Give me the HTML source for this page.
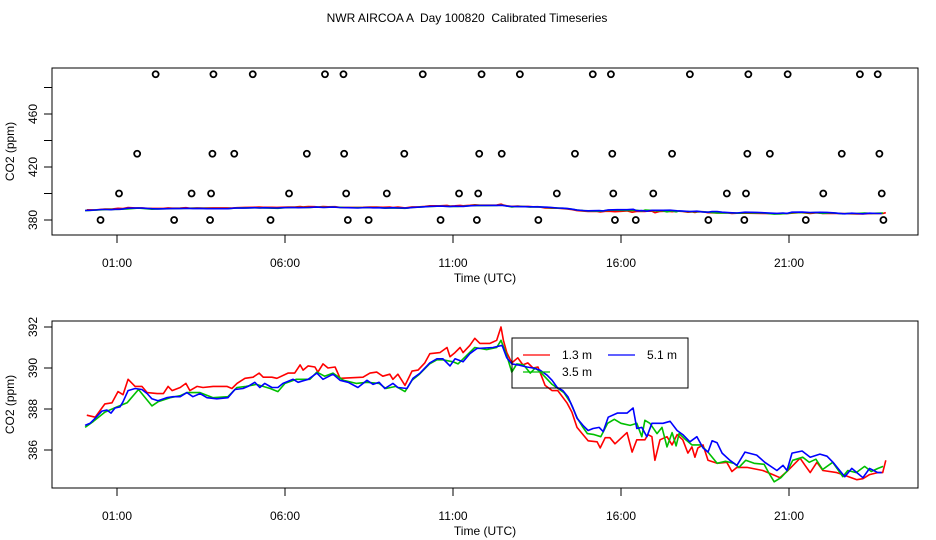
<!DOCTYPE html>
<html><head><meta charset="utf-8"><style>
body{margin:0;background:#fff}
svg{display:block;font-family:"Liberation Sans",Arial,sans-serif}
</style></head><body>
<svg id="c" width="936" height="540" viewBox="0 0 936 540">
<text x="467" y="22" text-anchor="middle" font-size="12" style="white-space:pre" xml:space="preserve">NWR AIRCOA A  Day 100820  Calibrated Timeseries</text>
<g id="top"></g>
<g id="bot"></g>
</svg>
<script>
const xTickHours=[1,6,11,16,21];
const xTickLabels=["01:00","06:00","11:00","16:00","21:00"];
const topTicks=[380,400,420,440,460,480];
const topTickLabels=["380","","420","","460",""];
const botTicks=[386,388,390,392];
const botTickLabels=["386","388","390","392"];
const seriesNames=["1.3 m","3.5 m","5.1 m"];
const seriesColors=["#ff0000","#00c000","#0000ff"];
// 1.3 m
const redT=[0.1,0.35,0.64,0.85,1.03,1.18,1.33,1.54,1.74,1.9,2.2,2.38,2.52,2.64,2.88,3.05,3.17,3.38,3.56,3.86,4.27,4.42,4.57,4.81,5.05,5.23,5.35,5.61,5.76,6.09,6.29,6.45,6.54,6.69,6.89,6.98,7.13,7.28,7.49,7.64,8.32,8.53,8.73,8.91,9.12,9.21,9.36,9.57,9.78,9.96,10.16,10.31,10.61,10.82,10.91,11.06,11.21,11.3,11.5,11.65,11.8,12.1,12.3,12.43,12.5,12.6,12.75,12.93,13.08,13.23,13.38,13.53,13.74,13.95,14.12,14.39,14.54,14.69,14.87,15.02,15.29,15.38,15.53,15.67,15.82,16.18,16.33,16.47,16.71,16.8,16.92,17.01,17.16,17.37,17.52,17.67,17.84,17.99,18.11,18.2,18.29,18.44,18.59,18.86,19.15,19.3,19.45,19.75,20.22,20.52,20.73,20.97,21.33,21.48,21.63,21.83,22.01,22.42,22.6,23.02,23.2,23.4,23.64,23.79,23.88];
const redV=[387.7,387.6,388.25,388.3,388.85,388.7,389.45,389.1,389.1,388.8,388.75,388.75,389.1,388.9,389.05,389.25,388.9,389.1,389.05,389.1,389.1,389.0,389.25,389.5,389.55,389.75,389.55,389.55,389.5,389.75,389.75,390.15,389.9,390.1,390.05,389.8,390.2,390.0,390.05,389.5,389.55,389.75,389.8,389.6,389.7,389.45,389.7,389.15,389.85,389.9,390.25,390.7,390.75,391.0,390.55,390.75,391.0,390.75,391.1,391.45,391.2,391.2,391.35,392.0,391.35,390.75,390.25,390.5,390.15,390.25,390.0,390.05,389.15,388.9,388.9,388.3,387.85,387.1,386.75,386.45,386.4,386.1,386.6,386.6,386.3,386.85,385.9,386.5,386.5,386.75,386.65,385.5,386.5,386.65,386.25,386.75,386.5,385.85,386.15,385.65,386.1,386.25,385.5,385.35,385.4,384.95,385.15,385.15,385.0,384.8,384.65,385.0,385.6,385.25,384.9,385.4,385.0,384.9,384.8,384.55,384.6,384.8,384.9,384.9,385.5];
// 3.5 m
const greenT=[0.05,0.3,0.64,1.0,1.3,1.64,2.04,2.22,2.58,2.88,3.08,3.47,3.86,4.3,4.57,4.84,5.15,5.56,5.79,6.0,6.34,6.74,6.95,7.18,7.43,7.74,8.12,8.44,8.8,9.0,9.3,9.57,9.78,10.0,10.3,10.52,10.7,11.0,11.15,11.4,11.65,12.0,12.3,12.43,12.6,12.75,12.9,13.1,13.3,13.45,13.6,13.95,14.3,14.5,14.7,14.87,15.0,15.2,15.4,15.6,15.8,16.0,16.27,16.47,16.62,16.71,16.86,17.07,17.22,17.37,17.52,17.64,17.73,17.93,18.11,18.37,18.59,18.86,19.11,19.36,19.51,19.71,19.96,20.26,20.41,20.56,20.76,20.96,21.11,21.41,21.6,21.8,22.0,22.3,22.6,22.75,23.0,23.25,23.45,23.65,23.8];
const greenV=[387.1,387.4,387.85,388.1,388.3,388.95,388.15,388.35,388.55,388.65,388.8,388.8,388.55,388.6,389.05,389.1,389.2,389.0,388.85,389.25,389.45,389.45,389.8,389.6,389.75,389.4,389.25,389.3,389.25,389.0,389.1,388.85,389.4,389.7,390.2,390.4,390.4,390.3,390.2,390.6,391.0,390.9,391.0,391.35,390.6,389.8,390.2,390.15,389.75,390.0,389.8,389.2,388.8,388.3,387.55,387.1,386.8,386.75,386.65,387.3,387.5,387.3,387.2,387.3,386.65,387.45,387.3,386.8,387.1,386.15,386.85,386.2,386.8,386.5,386.25,386.25,385.9,385.35,385.45,385.35,385.15,385.5,385.35,385.3,384.85,384.45,384.65,385.0,385.5,385.65,385.4,385.55,385.05,385.4,384.7,385.0,384.9,385.2,384.95,385.1,385.2];
// 5.1 m
const blueT=[0.05,0.2,0.35,0.55,0.7,0.82,0.94,1.09,1.18,1.33,1.54,1.74,1.9,2.04,2.22,2.48,2.67,2.88,3.08,3.26,3.47,3.68,3.97,4.3,4.51,4.75,4.9,5.1,5.25,5.4,5.61,5.79,5.94,6.24,6.39,6.69,6.95,7.13,7.43,7.64,7.88,8.17,8.44,8.62,8.8,8.97,9.21,9.36,9.63,9.81,10.02,10.31,10.52,10.7,10.91,11.06,11.3,11.5,11.71,12.19,12.46,12.6,12.75,12.93,13.2,13.38,13.59,13.8,13.95,14.1,14.27,14.42,14.57,14.69,14.87,15.02,15.17,15.35,15.47,15.62,15.89,16.18,16.36,16.47,16.62,16.77,16.92,17.25,17.46,17.67,17.84,18.05,18.26,18.44,18.59,18.71,18.86,19.01,19.24,19.45,19.69,20.04,20.28,20.64,20.82,20.94,21.09,21.39,21.63,21.92,22.13,22.31,22.51,22.66,22.87,23.02,23.2,23.4,23.64,23.76];
const blueV=[387.2,387.3,387.55,387.9,387.95,387.8,388.05,388.1,388.35,388.9,389.0,388.95,388.75,388.5,388.4,388.55,388.6,388.6,388.8,388.6,388.75,388.55,388.5,388.55,388.95,389.0,389.1,389.3,389.05,389.25,389.05,389.05,389.25,389.45,389.3,389.45,389.75,389.45,389.7,389.4,389.3,389.05,389.4,389.2,389.3,389.0,389.25,389.05,389.0,389.5,389.75,390.25,390.45,390.45,390.1,390.45,390.3,390.7,390.95,391.0,391.1,390.5,390.2,390.15,390.05,390.0,389.9,389.65,389.4,389.05,388.9,388.6,388.05,387.55,387.2,386.95,387.05,387.1,386.9,387.6,387.8,387.8,388.05,387.05,387.1,386.65,387.3,387.3,387.4,386.95,386.75,386.4,386.65,386.1,385.9,386.45,386.35,385.85,385.5,385.25,385.9,385.75,385.4,385.0,385.25,385.0,385.85,385.95,385.65,385.8,385.7,385.4,385.0,384.7,385.1,384.9,384.65,385.1,384.9,384.9];
// raw reference points (hours, ppm)
const circleT=[2.15,3.87,5.04,7.19,7.74,10.10,11.85,12.99,15.16,15.70,18.05,19.79,20.96,23.11,23.64,
 1.60,3.84,4.49,6.65,7.76,9.55,11.78,12.45,14.63,15.74,17.52,19.76,20.43,22.57,23.69,
 1.06,3.22,3.80,6.12,7.82,9.03,11.18,11.75,14.09,15.77,16.96,19.15,19.72,22.02,23.76,
 0.51,2.70,3.77,5.57,7.87,8.49,10.63,11.71,13.54,15.82,16.44,18.60,19.67,21.50,23.81];
const circleV=[490,490,490,490,490,490,490,490,490,490,490,490,490,490,490,
 430,430,430,430,430,430,430,430,430,430,430,430,430,430,430,
 400,400,400,400,400,400,400,400,400,400,400,400,400,400,400,
 380,380,380,380,380,380,380,380,380,380,380,380,380,380,380];

const NS="http://www.w3.org/2000/svg";
function mk(p,tag,a){const e=document.createElementNS(NS,tag);for(const k in a)e.setAttribute(k,a[k]);p.appendChild(e);return e;}
const X=h=>83.4+33.6*h;
const L=52,R=918;
function panel(g,top,bottom,yScale,ticks,labels,prefix){
  const box=mk(g,'rect',{x:L,y:top,width:R-L,height:bottom-top,fill:'none',stroke:'#000','stroke-width':1});
  
  
  xTickHours.forEach((h,i)=>{
    const t=mk(g,'line',{x1:X(h),x2:X(h),y1:bottom,y2:bottom+8,stroke:'#000'});
    
    
    const tx=mk(g,'text',{x:X(h),y:bottom+32,'text-anchor':'middle','font-size':12});
    tx.textContent=xTickLabels[i];
    
    
  });
  const xt=mk(g,'text',{x:485,y:bottom+47,'text-anchor':'middle','font-size':12});
  xt.textContent="Time (UTC)";
  
  
  ticks.forEach((v,i)=>{
    const y=yScale(v);
    const t=mk(g,'line',{x1:L-8,x2:L,y1:y,y2:y,stroke:'#000'});
    
    
    if(labels[i]){
      const tx=mk(g,'text',{x:0,y:0,'text-anchor':'middle','font-size':12,transform:`translate(37,${y}) rotate(-90)`});
      tx.textContent=labels[i];
      
      
    }
  });
  const yt=mk(g,'text',{x:0,y:0,'text-anchor':'middle','font-size':12,transform:`translate(14,${(top+bottom)/2}) rotate(-90)`});
  yt.textContent="CO2 (ppm)";
  
  
}
function lines(g,yScale,prefix){
  [[redT,redV],[greenT,greenV],[blueT,blueV]].forEach((s,k)=>{
    const d=s[0].map((t,i)=>(i?'L':'M')+X(t).toFixed(1)+','+yScale(s[1][i]).toFixed(1)).join('');
    const p=mk(g,'path',{d:d,fill:'none',stroke:seriesColors[k],'stroke-width':1.6,'stroke-linejoin':'round'});
    
    
  });
}
// top panel
const gt=document.getElementById('top');
const yTop=v=>220-(v-380)*1.325;
panel(gt,68,235,yTop,topTicks,topTickLabels,'top');
lines(gt,yTop,'top');
circleT.forEach((t,i)=>{
  const c=mk(gt,'circle',{cx:X(t),cy:yTop(circleV[i]),r:3,fill:'none',stroke:'#000','stroke-width':1.8});
  
  
});
// bottom panel
const gb=document.getElementById('bot');
const yBot=v=>368-(v-390)*20.5;
panel(gb,321,488,yBot,botTicks,botTickLabels,'bottom');
lines(gb,yBot,'bottom');
// legend
const lg=mk(gb,'g',{});


mk(lg,'rect',{x:512,y:338,width:176,height:50,fill:'none',stroke:'#000'});
const legendPos=[[523,355],[523,372],[608,355]];
[0,1,2].forEach(k=>{
  const [lx,ly]=legendPos[k];
  const ln=mk(lg,'line',{x1:lx,x2:lx+27,y1:ly,y2:ly,stroke:seriesColors[k],'stroke-width':1.2});
  
  
  const tx=mk(lg,'text',{x:lx+39,y:ly+4,'font-size':12});
  tx.textContent=seriesNames[k];
  
  
});
</script>
</body></html>
